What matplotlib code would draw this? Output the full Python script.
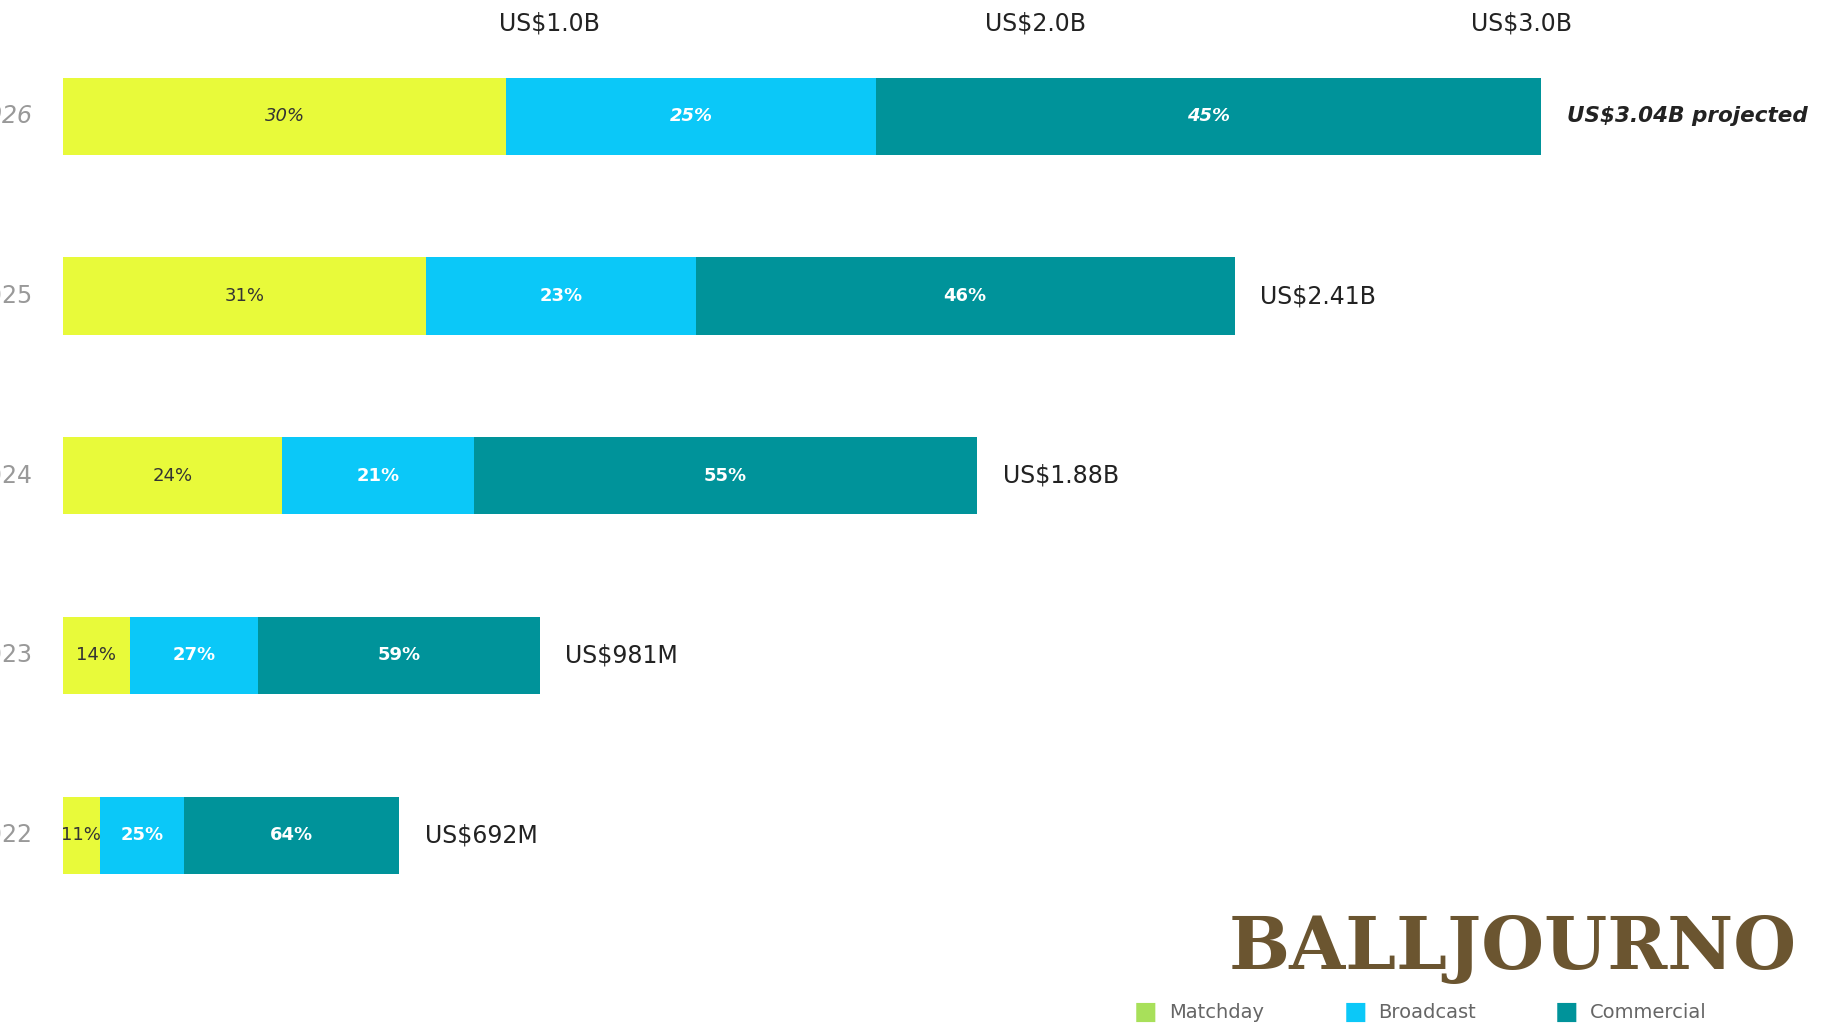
import numpy as np
import matplotlib.pyplot as plt

years = ['2026', '2025', '2024', '2023', '2022']
totals = [3.04, 2.41, 1.88, 0.981, 0.692]  # US$ billions
total_labels = ['US$3.04B projected', 'US$2.41B', 'US$1.88B', 'US$981M', 'US$692M']
matchday = [30, 31, 24, 14, 11]
broadcast = [25, 23, 21, 27, 25]
commercial = [45, 46, 55, 59, 64]
ticks = [1.0, 2.0, 3.0]
tick_labels = ['US$1.0B', 'US$2.0B', 'US$3.0B']

colors = ['#E8FA3A', '#0BC8F8', '#00939A']
W, H = 1568, 882  # reference pixel frame
px = 418  # pixels per billion

fig = plt.figure(figsize=(18.24, 10.26), dpi=100)
ax = fig.add_axes([0, 0, 1, 1])
ax.set_xlim(-54 / px, (W - 54) / px)
ax.set_ylim((H - 100) / 154.5, -100 / 154.5)
ax.axis('off')

y = np.arange(len(years))
shares = np.array([matchday, broadcast, commercial]) / 100
left = np.zeros(len(years))
for k in range(3):
    widths = shares[k] * np.array(totals)
    ax.barh(y, widths, left=left, height=0.43, color=colors[k])
    for i in range(len(years)):
        pct = [matchday, broadcast, commercial][k][i]
        dark = k == 0
        ax.text(left[i] + widths[i] / 2, y[i], f'{pct}%', ha='center', va='center',
                fontsize=13, color='#333333' if dark else 'white',
                fontweight='bold' if not dark else 'normal',
                style='italic' if i == 0 else 'normal')
    left += widths

for i in range(len(years)):
    ax.text(totals[i] + 22 / px, y[i], total_labels[i], ha='left', va='center',
            fontsize=15.5 if i == 0 else 17, color='#222222',
            fontweight='bold' if i == 0 else 'medium',
            style='italic' if i == 0 else 'normal')
    ax.text(-26 / px, y[i], years[i], ha='right', va='center', fontsize=17,
            color='#999999', style='italic' if i == 0 else 'normal')

for t, lab in zip(ticks, tick_labels):
    ax.text(t, -80 / 154.5, lab, ha='center', va='center', fontsize=17,
            color='#222222', fontweight='medium')

# legend
leg_names = ['Matchday', 'Broadcast', 'Commercial']
leg_colors = ['#A8E05A', '#0BC8F8', '#00939A']
leg_x = [985, 1165, 1347]
for name, c, lx in zip(leg_names, leg_colors, leg_x):
    fig.text(lx / W, 1 - 870 / H, '■', color=c, fontsize=18, ha='center', va='center')
    fig.text((lx + 20) / W, 1 - 870 / H, name, color='#666666', fontsize=14,
             ha='left', va='center')

fig.text(1300 / W, 1 - 815 / H, 'BALLJOURNO', color='#6B5530', fontsize=52,
         fontweight='bold', family='DejaVu Serif', ha='center', va='center')

fig.savefig('out.png')
